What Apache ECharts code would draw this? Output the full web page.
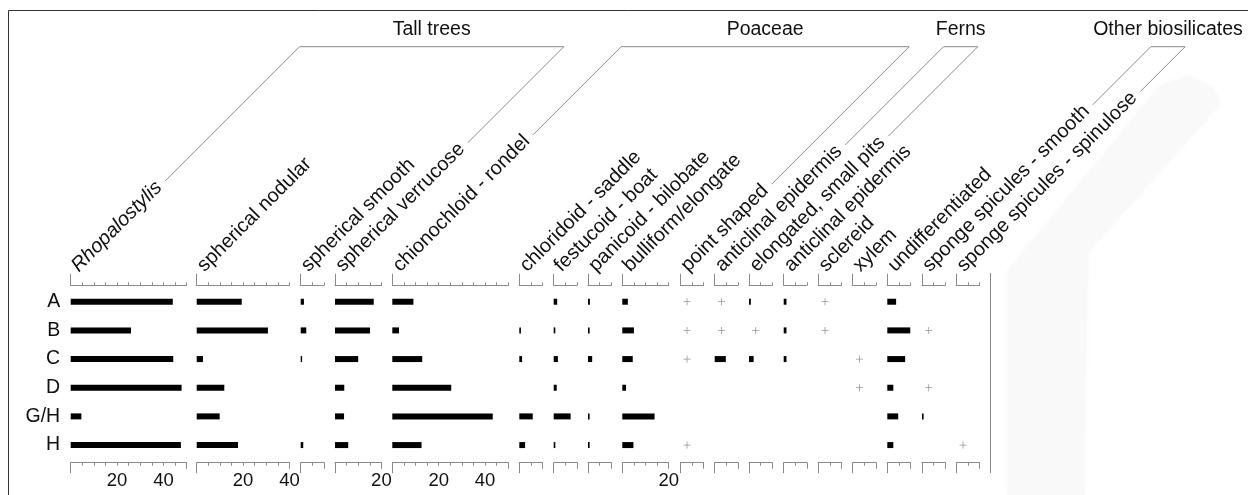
<!DOCTYPE html>
<html>
<head>
<meta charset="utf-8">
<script src="https://cdn.jsdelivr.net/npm/echarts@6/dist/echarts.min.js"></script>
<style>
  html, body { margin: 0; padding: 0; background: #fff; }
  #chart { width: 1248px; height: 495px; }
</style>
</head>
<body>
<div id="chart"></div>
<script>
// Phytolith and biosilicate abundances (%) per sample; '+' marks presence below counting level.
const TRACE = '+';
const samples = ['A', 'B', 'C', 'D', 'G/H', 'H'];

const taxa = [
  'Rhopalostylis', 'spherical nodular', 'spherical smooth', 'spherical verrucose',
  'chionochloid - rondel', 'chloridoid - saddle', 'festucoid - boat', 'panicoid - bilobate',
  'bulliform/elongate', 'point shaped', 'anticlinal epidermis', 'elongated, small pits',
  'anticlinal epidermis', 'sclereid', 'xylem', 'undifferentiated',
  'sponge spicules - smooth', 'sponge spicules - spinulose'
];

// Values per taxon, in sample order A, B, C, D, G/H, H
const rhopalostylis       = [44, 26, 44.2, 47.8, 4.6, 47.5];
const sphericalNodular    = [19.4, 30.7, 2.7, 11.9, 9.9, 17.8];
const sphericalSmooth     = [1.4, 2.4, 0.6, null, null, 1.1];
const sphericalVerrucose  = [16.7, 15.1, 10, 4, 3.9, 5.7];
const chionochloidRondel  = [9.1, 2.9, 12.9, 25.4, 43.3, 12.6];
const chloridoidSaddle    = [null, 0.7, 1.2, null, 5.8, 2.5];
const festucoidBoat       = [1.5, 0.7, 1.8, 1.3, 7.3, 0.7];
const panicoidBilobate    = [0.8, 0.7, 1.8, null, 0.7, 0.7];
const bulliformElongate   = [2.4, 5, 4.5, 1.6, 13.9, 4.8];
const pointShaped         = [TRACE, TRACE, TRACE, null, null, TRACE];
const anticlinalEpidermis = [TRACE, TRACE, 4.8, null, null, null];
const elongatedSmallPits  = [0.8, TRACE, 2, null, null, null];
const anticlinalEpidermis2 = [1.2, 1.2, 1.2, null, null, null];
const sclereid            = [TRACE, TRACE, null, null, null, null];
const xylem               = [null, null, TRACE, TRACE, null, null];
const undifferentiated    = [3.8, 9.9, 7.7, 2.6, 4.7, 2.6];
const spongeSmooth        = [null, TRACE, null, TRACE, 0.7, null];
const spongeSpinulose     = [null, null, null, null, null, TRACE];

const taxonValues = [
  rhopalostylis, sphericalNodular, sphericalSmooth, sphericalVerrucose,
  chionochloidRondel, chloridoidSaddle, festucoidBoat, panicoidBilobate,
  bulliformElongate, pointShaped, anticlinalEpidermis, elongatedSmallPits,
  anticlinalEpidermis2, sclereid, xylem, undifferentiated,
  spongeSmooth, spongeSpinulose
];

// Axis range (%) of each taxon panel
const axisMax = [50, 40, 10, 20, 50, 10, 10, 10, 20, 10, 10, 10, 10, 10, 10, 10, 10, 10];

// Ecological groups and the first/last taxon column they span
const groupNames = ['Tall trees', 'Poaceae', 'Ferns', 'Other biosilicates'];
const groupSpans = [[0, 3], [4, 9], [10, 11], [16, 17]];

// ---- layout ----
const FONT = '"Liberation Sans", Arial, Helvetica, sans-serif';
const UNIT_PX = 2.32;
const PANEL_LEFT = [70.7, 196.7, 300.7, 335, 392.3, 519.3, 553.7, 588, 622.3, 680.3,
                    714.7, 749, 783.7, 818.3, 852.7, 887.3, 922, 956.3];
const GRID_TOP = 287.4, GRID_H = 172;
const TOP_OFF = 2.1, BOT_OFF = 3.3;
const TRACE_AT = 2.9;
const NAME_SIZE = 20, NAME_DX = 4, NAME_DY = 16.6;
const BRACKET_Y = 46.7, BRACKET_GAP = 7, BASE_SHIFT = 2;
const AXIS_GREY = '#8a8a8a';
const PLUS = 'path://M4,0H5V4H9V5H5V9H4V5H0V4H4Z';
const AXES_PER_PANEL = 5;

const chart = echarts.init(document.getElementById('chart'), null, { renderer: 'canvas' });

const grids = [], xAxes = [], yAxes = [], series = [];
taxa.forEach((name, i) => {
  const max = axisMax[i];
  grids.push({ left: PANEL_LEFT[i], top: GRID_TOP, width: max * UNIT_PX, height: GRID_H,
               containLabel: false, outerBoundsMode: 'none' });
  const base = { type: 'value', gridIndex: i, min: 0, max: max, splitLine: { show: false } };
  const tickStyle = { color: AXIS_GREY, width: 1 };
  // top scale line with 5 % ticks
  xAxes.push(Object.assign({}, base, {
    position: 'top', offset: TOP_OFF, interval: 5,
    axisLine: { show: true, lineStyle: tickStyle },
    axisTick: { show: true, length: 3, lineStyle: tickStyle },
    axisLabel: { show: false }
  }));
  // top origin tick
  xAxes.push(Object.assign({}, base, {
    position: 'top', offset: TOP_OFF,
    axisLine: { show: false },
    axisTick: { show: true, customValues: [0], length: 11.5, lineStyle: tickStyle },
    axisLabel: { show: false }
  }));
  // bottom scale line, labelled every 20 %
  xAxes.push(Object.assign({}, base, {
    position: 'bottom', offset: BOT_OFF, interval: 5,
    axisLine: { show: true, lineStyle: tickStyle },
    axisTick: { show: true, length: 3, lineStyle: tickStyle },
    axisLabel: {
      show: true, margin: 8.5, fontSize: 18.5, fontFamily: FONT, color: '#111',
      formatter: v => (v > 0 && v % 20 === 0) ? String(v) : ''
    }
  }));
  // bottom origin tick
  xAxes.push(Object.assign({}, base, {
    position: 'bottom', offset: BOT_OFF,
    axisLine: { show: false },
    axisTick: { show: true, customValues: [0], length: 10.5, lineStyle: tickStyle },
    axisLabel: { show: false }
  }));
  // bottom end tick
  xAxes.push(Object.assign({}, base, {
    position: 'bottom', offset: BOT_OFF,
    axisLine: { show: false },
    axisTick: { show: true, customValues: [max], length: 6, lineStyle: tickStyle },
    axisLabel: { show: false }
  }));
  yAxes.push({
    type: 'category', gridIndex: i, data: samples, inverse: true,
    axisLine: { show: false }, axisTick: { show: false }, splitLine: { show: false },
    axisLabel: { show: i === 0, fontSize: 19.5, fontFamily: FONT, color: '#111', margin: 10.5 }
  });

  const vals = taxonValues[i];
  const xIdx = i * AXES_PER_PANEL + 2;
  series.push({
    type: 'bar', xAxisIndex: xIdx, yAxisIndex: i, barWidth: 6, silent: true,
    data: vals.map(v => (typeof v === 'number' ? v : null)),
    itemStyle: { color: '#000' }
  });
  const traces = [];
  vals.forEach((v, r) => { if (v === TRACE) traces.push([TRACE_AT, samples[r]]); });
  if (traces.length) {
    series.push({
      type: 'scatter', xAxisIndex: xIdx, yAxisIndex: i, silent: true,
      data: traces, symbol: PLUS, symbolSize: 7,
      itemStyle: { color: '#7a7a7a' }
    });
  }
});

chart.setOption({
  animation: false,
  backgroundColor: '#fff',
  textStyle: { fontFamily: FONT },
  grid: grids, xAxis: xAxes, yAxis: yAxes, series: series
});

// ---- taxon names at 45°, and group brackets continuing them up to a common bar ----
const R = Math.SQRT1_2;
const measure = document.createElement('canvas').getContext('2d');
function nameFont(col) { return (col === 0 ? 'italic ' : '') + NAME_SIZE + 'px ' + FONT; }
function nameAnchor(col) {
  const x0 = chart.convertToPixel({ xAxisIndex: col * AXES_PER_PANEL + 1 }, 0);
  return [x0 + NAME_DX, GRID_TOP - TOP_OFF - NAME_DY];
}
function leader(col) {
  const a = nameAnchor(col);
  measure.font = nameFont(col);
  const t = measure.measureText(taxa[col]).width + BRACKET_GAP;
  const sx = a[0] + (t + BASE_SHIFT) * R;
  const sy = a[1] - t * R + BASE_SHIFT * R;
  return { sx: sx, sy: sy, ex: sx + (sy - BRACKET_Y), ey: BRACKET_Y };
}

const elements = [];
// faint grey stain of the scanned sheet, right of the last labels
elements.push({
  type: 'polygon', silent: true, z: -10,
  shape: { points: [[1007, 495], [1007, 272], [1160, 86], [1188, 76], [1214, 88], [1220, 104],
                    [1088, 252], [1084, 495]] },
  style: { fill: '#f9f9f9', stroke: null, shadowBlur: 6, shadowColor: '#f9f9f9' }
});
taxa.forEach((name, col) => {
  const a = nameAnchor(col);
  elements.push({
    type: 'text', silent: true, x: a[0], y: a[1], rotation: Math.PI / 4,
    style: {
      text: name, fontSize: NAME_SIZE, fontFamily: FONT, fontStyle: col === 0 ? 'italic' : 'normal',
      fill: '#111', align: 'left', verticalAlign: 'middle'
    }
  });
});
groupNames.forEach((g, k) => {
  const a = leader(groupSpans[k][0]);
  const b = leader(groupSpans[k][1]);
  elements.push({
    type: 'polyline', silent: true,
    shape: { points: [[a.sx, a.sy], [a.ex, a.ey], [b.ex, b.ey], [b.sx, b.sy]] },
    style: { stroke: AXIS_GREY, lineWidth: 1, fill: null }
  });
  elements.push({
    type: 'text', silent: true, x: (a.ex + b.ex) / 2, y: 30,
    style: { text: g, fontSize: 19.5, fontFamily: FONT, fill: '#111', align: 'center', verticalAlign: 'middle' }
  });
});

// closing rule to the right of the last panel
const lastCol = taxa.length - 1;
const xEnd = chart.convertToPixel({ xAxisIndex: lastCol * AXES_PER_PANEL + 2 }, axisMax[lastCol]) + 11;
elements.push({
  type: 'line', silent: true,
  shape: { x1: xEnd, y1: 273, x2: xEnd, y2: 473 },
  style: { stroke: AXIS_GREY, lineWidth: 1 }
});
// frame
elements.push({
  type: 'polyline', silent: true,
  shape: { points: [[8.5, 500], [8.5, 10.5], [1250, 10.5]] },
  style: { stroke: '#333', lineWidth: 1, fill: null }
});

chart.setOption({ graphic: { elements: elements } });
</script>
</body>
</html>
